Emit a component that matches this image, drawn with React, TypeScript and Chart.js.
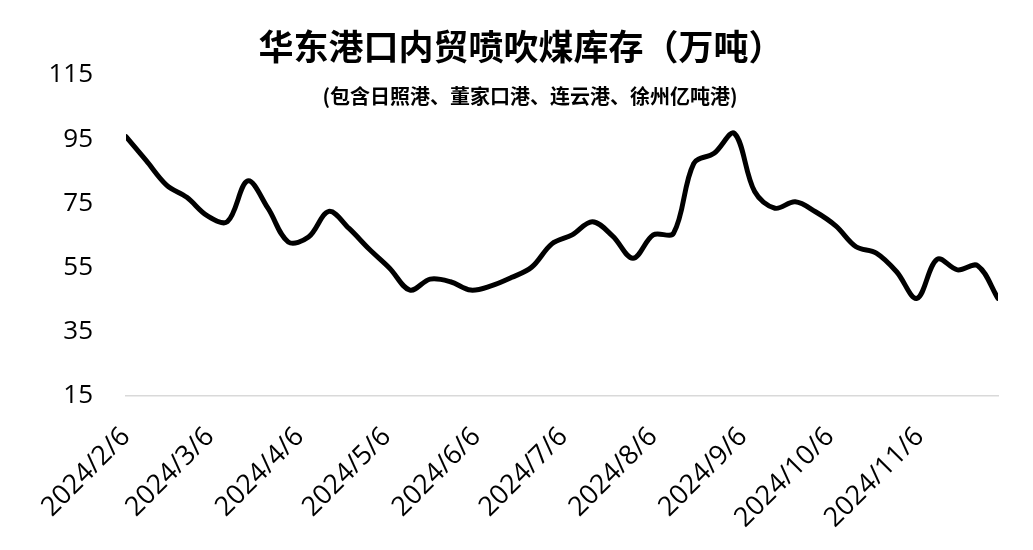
import { useEffect, useRef } from 'react';
import { Chart, registerables } from 'chart.js';

Chart.register(...registerables);

// Weekly inventory readings (10k tonnes)
const weekDates = [
  '2024-02-06', '2024-02-13', '2024-02-20', '2024-02-27', '2024-03-05', '2024-03-12',
  '2024-03-19', '2024-03-26', '2024-04-02', '2024-04-09', '2024-04-16', '2024-04-23',
  '2024-04-30', '2024-05-07', '2024-05-14', '2024-05-21', '2024-05-28', '2024-06-04',
  '2024-06-11', '2024-06-18', '2024-06-25', '2024-07-02', '2024-07-09', '2024-07-16',
  '2024-07-23', '2024-07-30', '2024-08-06', '2024-08-13', '2024-08-20', '2024-08-27',
  '2024-09-03', '2024-09-10', '2024-09-17', '2024-09-24', '2024-10-01', '2024-10-08',
  '2024-10-15', '2024-10-22', '2024-10-29', '2024-11-05', '2024-11-12', '2024-11-19',
  '2024-11-26', '2024-12-03',
];

const stockValues = [
  95.8, 88.3, 80.7, 76.9, 71.2, 69.3, 82.0, 73.5, 63.0, 64.5,
  72.5, 67.2, 60.7, 54.8, 48.0, 51.4, 50.6, 48.0, 49.3, 51.9,
  55.1, 62.4, 65.2, 69.3, 64.8, 57.9, 65.2, 65.7, 87.5, 90.6,
  96.8, 78.7, 73.5, 75.5, 72.4, 68.0, 61.5, 59.5, 53.7, 45.4,
  57.6, 54.3, 55.6, 45.4,
];

const xTickLabels = [
  '2024/2/6', '2024/3/6', '2024/4/6', '2024/5/6', '2024/6/6',
  '2024/7/6', '2024/8/6', '2024/9/6', '2024/10/6', '2024/11/6',
];

const yTickValues = [15, 35, 55, 75, 95, 115];

const titleText = '华东港口内贸喷吹煤库存（万吨）';
const subtitleText = '(包含日照港、董家口港、连云港、徐州亿吨港)';

const DAY_MS = 86400000;

function toUtc(y: number, m: number, d: number) {
  return Date.UTC(y, m - 1, d);
}

const originMs = toUtc(2024, 2, 6);

function isoToDay(iso: string) {
  const [y, m, d] = iso.split('-').map(Number);
  return Math.round((toUtc(y, m, d) - originMs) / DAY_MS);
}

function labelToDay(label: string) {
  const [y, m, d] = label.split('/').map(Number);
  return Math.round((toUtc(y, m, d) - originMs) / DAY_MS);
}

const tickDayToLabel = new Map<number, string>(
  xTickLabels.map((l) => [labelToDay(l), l])
);

const seriesPoints = weekDates.map((d, i) => ({ x: isoToDay(d), y: stockValues[i] }));

const headingPlugin = {
  id: 'headingText',
  afterDraw(chart: Chart) {
    const { ctx } = chart;
    ctx.save();
    ctx.fillStyle = '#000';
    ctx.textAlign = 'center';
    ctx.textBaseline = 'middle';
    ctx.font = 'bold 35px "Noto Sans CJK SC", sans-serif';
    ctx.fillText(titleText, 521, 47);
    ctx.font = 'bold 20px "Noto Sans CJK SC", sans-serif';
    ctx.fillText(subtitleText, 530, 96);
    ctx.restore();
  },
};

export default function App() {
  const canvasRef = useRef<HTMLCanvasElement>(null);

  useEffect(() => {
    if (!canvasRef.current) return;
    const chart = new Chart(canvasRef.current, {
      type: 'line',
      data: {
        datasets: [
          {
            data: seriesPoints,
            borderColor: '#000000',
            borderWidth: 5,
            borderCapStyle: 'round',
            borderJoinStyle: 'round',
            pointRadius: 0,
            pointHoverRadius: 0,
            tension: 0.35,
            fill: false,
          },
        ],
      },
      options: {
        responsive: false,
        animation: false,
        events: [],
        layout: { padding: { top: 75, left: 16, right: 35, bottom: 0 } },
        plugins: {
          legend: { display: false },
          tooltip: { enabled: false },
          title: { display: false },
        },
        scales: {
          x: {
            type: 'linear',
            min: 0,
            max: isoToDay(weekDates[weekDates.length - 1]),
            grid: { display: false, drawTicks: false },
            border: { display: true, color: '#d9d9d9', width: 1.5 },
            afterBuildTicks(scale: any) {
              scale.ticks = xTickLabels.map((l) => ({ value: labelToDay(l) }));
            },
            afterFit(scale: any) {
              scale.height = 154;
            },
            ticks: {
              autoSkip: false,
              minRotation: 45,
              maxRotation: 45,
              padding: 25,
              color: '#000',
              font: { family: '"Open Sans", sans-serif', size: 27 },
              callback: (value: any) => tickDayToLabel.get(Number(value)) ?? '',
            },
          },
          y: {
            min: 15,
            max: 115,
            grid: { display: false, drawTicks: false },
            border: { display: false },
            afterBuildTicks(scale: any) {
              scale.ticks = yTickValues.map((v) => ({ value: v }));
            },
            afterFit(scale: any) {
              scale.width = 110;
            },
            ticks: {
              padding: 33,
              color: '#000',
              font: { family: '"Open Sans", sans-serif', size: 26 },
            },
          },
        },
      },
      plugins: [headingPlugin],
    } as any);
    return () => chart.destroy();
  }, []);

  return (
    <div style={{ position: 'fixed', left: 0, top: 0, width: 1033, height: 550, background: '#fff' }}>
      <canvas ref={canvasRef} width={1033} height={550} style={{ width: 1033, height: 550, display: 'block' }} />
    </div>
  );
}
